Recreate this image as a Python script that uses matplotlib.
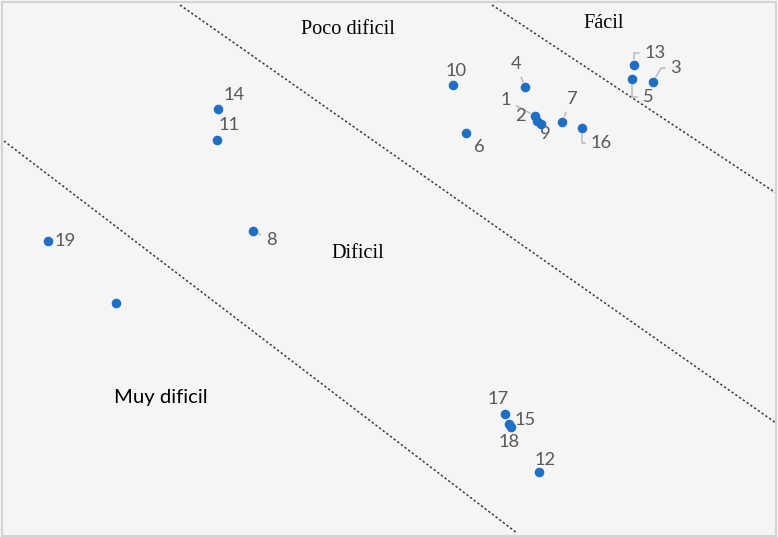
import matplotlib.pyplot as plt
from matplotlib.patches import Rectangle

# point data (x to the right, y upward)
labels = ["1", "2", "3", "4", "5", "6", "7", "8", "9", "10",
          "11", "12", "13", "14", "15", "16", "17", "18", "19", ""]
x = [535, 537, 653, 525, 632, 466, 562, 253, 541, 453,
     217, 539, 634, 218, 509, 582, 505, 511, 48, 116]
y = [421, 416, 455, 450, 458, 404, 415, 306, 413, 452,
     397, 65, 472, 428, 113, 409, 123, 110, 296, 234]

# dividing lines between zones: (x0, y0, x1, y1)
bounds_x0 = [4, 180, 492]
bounds_y0 = [396, 532, 532]
bounds_x1 = [517, 776, 776]
bounds_y1 = [4, 114, 344]

zones = ["Poco dificil", "Fácil", "Dificil", "Muy dificil"]
zone_x = [348, 604, 358, 161]
zone_y = [507, 514, 283, 140]

# label placement, offsets in pixels from the point
offsets = {
    "1": (-29, 16), "2": (-17, 5), "3": (23, 14), "4": (-9, 23),
    "5": (16, -18), "6": (13, -14), "7": (10, 23), "8": (18, -9),
    "9": (4, -10), "10": (3, 14), "11": (12, 15), "12": (6, 12),
    "13": (21, 12), "14": (16, 14), "15": (16, 4), "16": (19, -15),
    "17": (-7, 15), "18": (-2, -15), "19": (17, 0),
}
leaders = {
    "1": "arc3",
    "3": "angle,angleA=0,angleB=60,rad=0",
    "4": "arc3",
    "5": "angle,angleA=0,angleB=90,rad=0",
    "7": "arc3",
    "8": "arc3",
    "13": "angle,angleA=0,angleB=90,rad=0",
    "16": "angle,angleA=0,angleB=90,rad=0",
}

bg = "#f5f5f5"
fig = plt.figure(figsize=(7.78, 5.37), dpi=100, facecolor=bg)
ax = fig.add_axes([0, 0, 1, 1])
ax.set_facecolor(bg)
ax.set_xlim(0, 778)
ax.set_ylim(0, 537)
ax.axis("off")

for x0, y0, x1, y1 in zip(bounds_x0, bounds_y0, bounds_x1, bounds_y1):
    ax.plot([x0, x1], [y0, y1], color="#3a3a3a", lw=1.1, ls=(0, (1.5, 1.5)), zorder=1)

ax.scatter(x, y, s=48, color="#1f6ec4", zorder=3, linewidths=0)

for lab, px, py in zip(labels, x, y):
    if not lab:
        continue
    dx, dy = offsets[lab]
    arrow = None
    if lab in leaders:
        arrow = dict(arrowstyle="-", color="#bfbfbf", lw=1.2,
                     shrinkA=2, shrinkB=4, connectionstyle=leaders[lab])
    ax.annotate(lab, (px, py), xytext=(dx, dy), textcoords="offset pixels",
                ha="center", va="center", fontsize=13.2, color="#595959",
                family="Lato", arrowprops=arrow, zorder=2)

for name, zx, zy in zip(zones, zone_x, zone_y):
    fam = "Lato" if name == "Muy dificil" else "Liberation Serif"
    ax.text(zx, zy, name, ha="center", va="center", fontsize=14.6,
            family=fam, color="black", zorder=2)

fig.patches.append(Rectangle((0.002, 0.002), 0.996, 0.995, transform=fig.transFigure,
                             fill=False, edgecolor="#d4d4d4", lw=1.5))

fig.savefig("out.png", dpi=100, facecolor=bg)
